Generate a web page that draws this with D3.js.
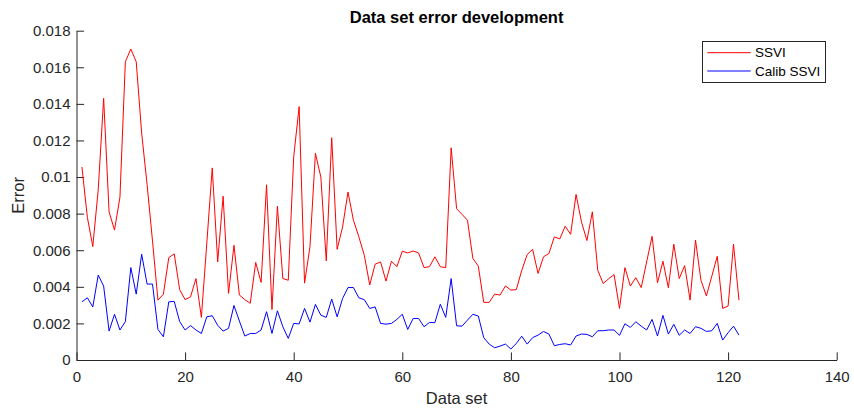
<!DOCTYPE html>
<html>
<head>
<meta charset="utf-8">
<script src="https://cdn.jsdelivr.net/npm/d3@7/dist/d3.min.js"></script>
<style>
  html, body { margin: 0; padding: 0; background: #fff; }
  svg { display: block; font-family: "Liberation Sans", Arial, Helvetica, sans-serif; }
</style>
</head>
<body>
<svg id="chart" width="854" height="409"></svg>
<script>
// Error per data set for plain SSVI fit and calibrated SSVI fit
const ssvi = [
  0.01055, 0.0078, 0.0062, 0.0093, 0.0143, 0.0081, 0.0071, 0.0089, 0.0163, 0.0170,
  0.0163, 0.0124, 0.0096, 0.0065, 0.00327, 0.0036, 0.0056, 0.0058, 0.00385, 0.0033,
  0.00345, 0.00445, 0.00233, 0.0064, 0.0105, 0.00536, 0.00895, 0.00364, 0.00627, 0.00355,
  0.0033, 0.0031, 0.00533, 0.00424, 0.00958, 0.00276, 0.0084, 0.00445, 0.00436, 0.0111,
  0.01385, 0.0042, 0.0062, 0.0113, 0.0100, 0.00542, 0.01215, 0.00605, 0.00727, 0.00918,
  0.00764, 0.00673, 0.00573, 0.0041, 0.00524, 0.00536, 0.00431, 0.0054, 0.0051, 0.00595,
  0.00585, 0.00596, 0.00585, 0.00505, 0.0051, 0.00564, 0.0051, 0.00505, 0.0116, 0.00827,
  0.00796, 0.00764, 0.00555, 0.00513, 0.00315, 0.00315, 0.0036, 0.00355, 0.00405, 0.00382,
  0.00385, 0.0049, 0.00576, 0.00605, 0.00473, 0.00564, 0.00582, 0.00673, 0.00662, 0.00731,
  0.00687, 0.00905, 0.00755, 0.00653, 0.0081, 0.0049, 0.00418, 0.00444, 0.00467, 0.00282,
  0.00505, 0.00404, 0.0045, 0.00396, 0.00536, 0.00676, 0.00422, 0.0054, 0.00395, 0.00633,
  0.00445, 0.00516, 0.00327, 0.00655, 0.00436, 0.0035, 0.00458, 0.00567, 0.00282, 0.00295,
  0.00633, 0.00327
];

const calibSsvi = [
  0.00318, 0.0034, 0.0029, 0.00464, 0.00404, 0.00158, 0.0025, 0.00164, 0.0021, 0.00505,
  0.0036, 0.00578, 0.00415, 0.00415, 0.00167, 0.00127, 0.00318, 0.0032, 0.0021, 0.00164,
  0.00188, 0.00164, 0.00145, 0.00236, 0.00242, 0.0019, 0.00158, 0.00173, 0.00298, 0.00213,
  0.00131, 0.00145, 0.00145, 0.00164, 0.00264, 0.00145, 0.00269, 0.00182, 0.00118, 0.0020,
  0.00197, 0.00282, 0.00207, 0.00304, 0.00245, 0.00233, 0.00333, 0.00236, 0.00336, 0.00396,
  0.00396, 0.0034, 0.0033, 0.00282, 0.0029, 0.0020, 0.00196, 0.0020, 0.00222, 0.0025,
  0.00167, 0.00227, 0.00227, 0.00182, 0.00205, 0.00204, 0.00305, 0.00233, 0.00445, 0.00187,
  0.00185, 0.00218, 0.0025, 0.0024, 0.00122, 0.00087, 0.00067, 0.00076, 0.00087, 0.0006,
  0.00091, 0.0013, 0.00087, 0.00122, 0.00136, 0.00156, 0.00142, 0.00078, 0.00085, 0.00089,
  0.00082, 0.00131, 0.00142, 0.0014, 0.00127, 0.0016, 0.0016, 0.00164, 0.00164, 0.00135,
  0.00198, 0.00178, 0.00209, 0.00185, 0.00164, 0.00222, 0.00131, 0.00244, 0.00142, 0.00195,
  0.00135, 0.00164, 0.00145, 0.00182, 0.00173, 0.00156, 0.0016, 0.0020, 0.00109, 0.00149,
  0.00185, 0.00136
];

const seriesNames = ["SSVI", "Calib SSVI"];
const seriesColors = ["#ff0000", "#0000ff"];
const xTicks = [0, 20, 40, 60, 80, 100, 120, 140];
const yTicks = [0, 0.002, 0.004, 0.006, 0.008, 0.01, 0.012, 0.014, 0.016, 0.018];
const titleText = "Data set error development";
const xLabel = "Data set";
const yLabel = "Error";

const svg = d3.select("#chart");
const axisColor = "#262626";
const plot = { left: 76.5, right: 836.7, top: 30.7, bottom: 360 };

const x = d3.scaleLinear().domain([0, 140]).range([plot.left, plot.right]);
const y = d3.scaleLinear().domain([0, 0.018]).range([plot.bottom, plot.top]);
const tickLen = 7.6;

// x axis, ticks pointing inward
const gx = svg.append("g")
  .attr("transform", `translate(0,${plot.bottom})`)
  .call(d3.axisBottom(x).tickValues(xTicks).tickSizeInner(-tickLen).tickSizeOuter(0).tickPadding(11)
    .tickFormat(d3.format("d")));

// y axis, ticks pointing inward
const gy = svg.append("g")
  .attr("transform", `translate(${plot.left},0)`)
  .call(d3.axisLeft(y).tickValues(yTicks).tickSizeInner(-tickLen).tickSizeOuter(0).tickPadding(6)
    .tickFormat(d => d === 0 ? "0" : String(+d.toFixed(3))));

[gx, gy].forEach(g => {
  g.select(".domain").attr("stroke", axisColor).attr("stroke-width", 1);
  g.selectAll(".tick line").attr("stroke", axisColor).attr("stroke-width", 1);
  g.selectAll(".tick text").attr("fill", axisColor)
    .style("font-size", "15px").style("font-family", "'Liberation Sans', Arial, sans-serif");
});

// series lines
const line = d3.line()
  .x((d, i) => x(i + 1))
  .y(d => y(d));

[ssvi, calibSsvi].forEach((values, k) => {
  svg.append("path")
    .datum(values)
    .attr("fill", "none")
    .attr("stroke", seriesColors[k])
    .attr("stroke-width", 1)
    .attr("stroke-linejoin", "round")
    .attr("d", line);
});

// title and axis labels
svg.append("text")
  .attr("x", (plot.left + plot.right) / 2)
  .attr("y", 23)
  .attr("text-anchor", "middle")
  .attr("font-weight", "bold")
  .attr("font-size", "16.5px")
  .attr("fill", "#000")
  .text(titleText);

svg.append("text")
  .attr("x", (plot.left + plot.right) / 2)
  .attr("y", 404)
  .attr("text-anchor", "middle")
  .attr("font-size", "16.5px")
  .attr("fill", axisColor)
  .text(xLabel);

svg.append("text")
  .attr("transform", `translate(24,${(plot.top + plot.bottom) / 2}) rotate(-90)`)
  .attr("text-anchor", "middle")
  .attr("font-size", "16.5px")
  .attr("fill", axisColor)
  .text(yLabel);

// legend
const legend = svg.append("g");
legend.append("rect")
  .attr("x", 702.5).attr("y", 41.5)
  .attr("width", 123).attr("height", 41)
  .attr("fill", "#fff")
  .attr("stroke", axisColor)
  .attr("stroke-width", 1);

seriesNames.forEach((name, k) => {
  const ly = 52.7 + k * 18.3;
  legend.append("line")
    .attr("x1", 707.3).attr("x2", 750.7)
    .attr("y1", ly).attr("y2", ly)
    .attr("stroke", seriesColors[k])
    .attr("stroke-width", 1);
  legend.append("text")
    .attr("x", 755)
    .attr("y", ly)
    .attr("dy", "0.35em")
    .attr("font-size", "13.5px")
    .attr("fill", "#000")
    .text(name);
});
</script>
</body>
</html>
